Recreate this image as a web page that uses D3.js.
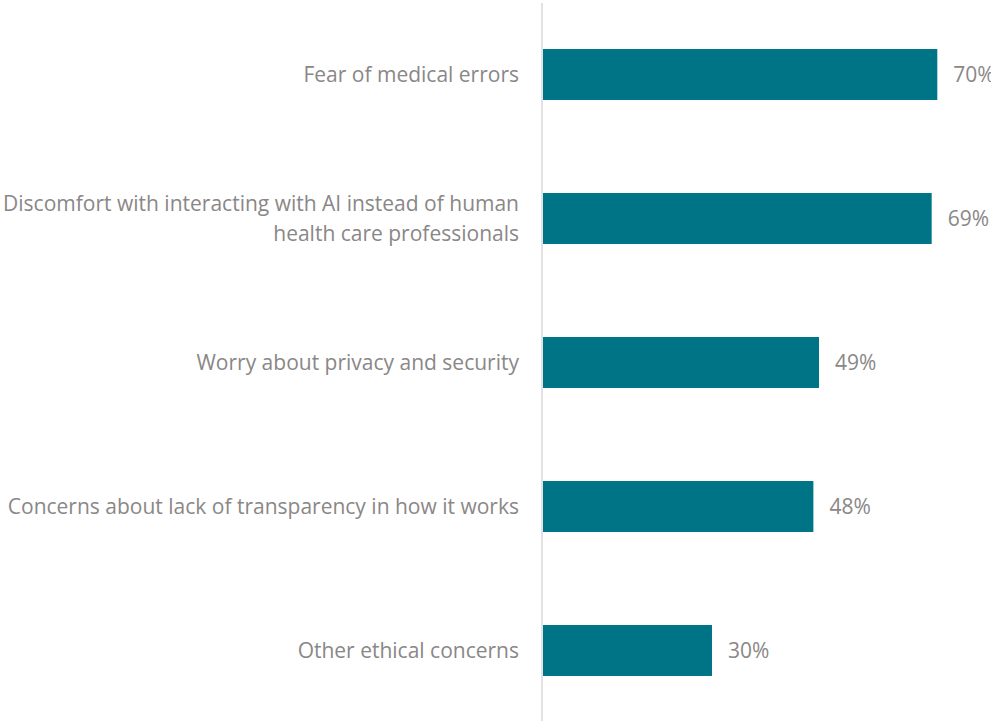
<!DOCTYPE html>
<html>
<head>
<meta charset="utf-8">
<script src="https://cdn.jsdelivr.net/npm/d3@7"></script>
<style>
  html, body { margin: 0; padding: 0; background: #ffffff; }
  svg { display: block; }
</style>
</head>
<body>
<svg id="chart" width="991" height="721"></svg>
<script>
// Reasons for concern about AI in health care (share of respondents)
const categories = [
  ["Fear of medical errors"],
  ["Discomfort with interacting with AI instead of human", "health care professionals"],
  ["Worry about privacy and security"],
  ["Concerns about lack of transparency in how it works"],
  ["Other ethical concerns"]
];
const values = [70, 69, 49, 48, 30];
const valueLabels = ["70%", "69%", "49%", "48%", "30%"];

const svg = d3.select("#chart");
const font = "'Open Sans', sans-serif";
const fontSize = 21;
const textColor = "#8a8787";
const barColor = "#007487";

const keys = categories.map((c, i) => i);

const y = d3.scaleBand()
  .domain(keys)
  .range([2.5, 722.5])
  .paddingInner(0.646)
  .paddingOuter(0.323);

const x = d3.scaleLinear()
  .domain([0, 70])
  .range([543, 937.3]);

// category axis line
svg.append("line")
  .attr("x1", 542).attr("x2", 542)
  .attr("y1", 3).attr("y2", 721)
  .attr("stroke", "#d9d9d9")
  .attr("stroke-width", 1.5);

// bars
svg.selectAll("rect.bar")
  .data(keys)
  .join("rect")
  .attr("class", "bar")
  .attr("x", x(0))
  .attr("y", i => y(i))
  .attr("width", i => x(values[i]) - x(0))
  .attr("height", y.bandwidth())
  .attr("fill", barColor);

// value labels
svg.selectAll("text.val")
  .data(keys)
  .join("text")
  .attr("class", "val")
  .attr("x", i => x(values[i]) + 16)
  .attr("y", i => y(i) + y.bandwidth() / 2)
  .attr("dy", "0.35em")
  .attr("font-family", font)
  .attr("font-size", fontSize)
  .attr("fill", textColor)
  .text(i => valueLabels[i]);

// category labels, right-aligned against the axis
const lineH = 30;
const labels = svg.selectAll("text.cat")
  .data(keys)
  .join("text")
  .attr("class", "cat")
  .attr("text-anchor", "end")
  .attr("font-family", font)
  .attr("font-size", fontSize)
  .attr("fill", textColor);

labels.each(function(i) {
  const lines = categories[i];
  const cy = y(i) + y.bandwidth() / 2;
  const top = cy - (lines.length - 1) * lineH / 2;
  d3.select(this).selectAll("tspan")
    .data(lines)
    .join("tspan")
    .attr("x", 519)
    .attr("y", (d, k) => top + k * lineH)
    .attr("dy", "0.35em")
    .text(d => d);
});
</script>
</body>
</html>
